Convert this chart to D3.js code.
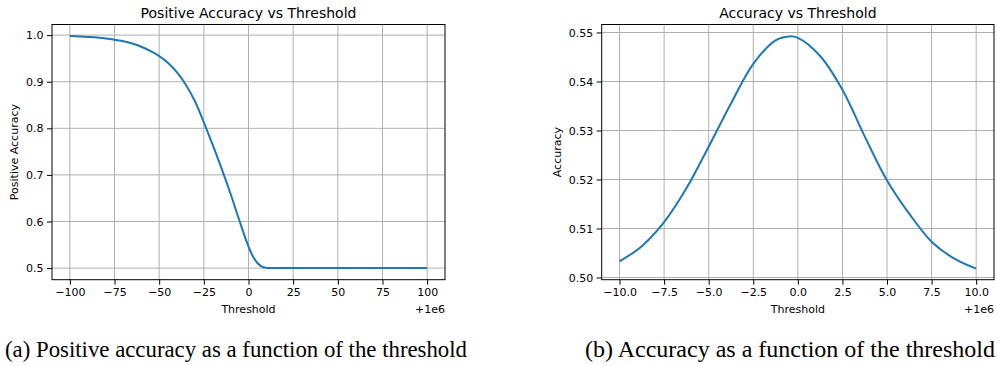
<!DOCTYPE html>
<html>
<head>
<meta charset="utf-8">
<script src="https://cdn.jsdelivr.net/npm/d3@7"></script>
<style>
  body { margin: 0; background: #fff; }
  svg { display: block; }
  .tick text { font-family: "DejaVu Sans", sans-serif; font-size: 11px; fill: #000; }
  .caption { font-family: "Liberation Serif", serif; font-size: 23px; fill: #000; }
</style>
</head>
<body>
<svg id="chart" width="997" height="366"></svg>
<script>
// panel (a): positive accuracy vs threshold (offset +1e6)
var posThreshold = [-100, -90, -80, -75, -70, -65, -60, -55, -50, -45, -40, -35, -30, -25, -20, -15, -10, -5, 0, 2.5, 5, 7.5, 10, 12.5, 15, 25, 50, 75, 100];
var posAccuracy = [0.998, 0.996, 0.993, 0.990, 0.987, 0.982, 0.975, 0.966, 0.955, 0.940, 0.920, 0.893, 0.858, 0.813, 0.764, 0.713, 0.659, 0.601, 0.546, 0.525, 0.511, 0.503, 0.5005, 0.5, 0.5, 0.5, 0.5, 0.5, 0.5];
var posXTicks = [-100, -75, -50, -25, 0, 25, 50, 75, 100];
var posYTicks = [0.5, 0.6, 0.7, 0.8, 0.9, 1.0];

// panel (b): accuracy vs threshold (offset +1e6)
var accThreshold = [-10, -8.75, -7.5, -6.25, -5, -3.75, -2.5, -1.25, -0.5, 0, 1.25, 2.5, 3.75, 5, 6.25, 7.5, 8.75, 10];
var accValues = [0.5033, 0.5064, 0.5113, 0.5182, 0.5267, 0.5355, 0.5436, 0.5484, 0.5492, 0.5489, 0.5452, 0.5383, 0.5288, 0.5198, 0.5130, 0.5073, 0.5039, 0.5018];
var accXTicks = [-10, -7.5, -5, -2.5, 0, 2.5, 5, 7.5, 10];
var accYTicks = [0.50, 0.51, 0.52, 0.53, 0.54, 0.55];

var svg = d3.select("#chart");

function drawPanel(opt) {
  var x = d3.scaleLinear().domain(opt.xDomain).range([opt.left, opt.right]);
  var y = d3.scaleLinear().domain(opt.yDomain).range([opt.bottom, opt.top]);
  var g = svg.append("g");

  // grid
  g.selectAll(".vgrid").data(opt.xTicks).enter().append("line")
    .attr("x1", function(d) { return x(d); }).attr("x2", function(d) { return x(d); })
    .attr("y1", opt.top).attr("y2", opt.bottom)
    .attr("stroke", "#b0b0b0").attr("stroke-width", 1);
  g.selectAll(".hgrid").data(opt.yTicks).enter().append("line")
    .attr("y1", function(d) { return y(d); }).attr("y2", function(d) { return y(d); })
    .attr("x1", opt.left).attr("x2", opt.right)
    .attr("stroke", "#b0b0b0").attr("stroke-width", 1);

  // the curve
  var line = d3.line()
    .x(function(d) { return x(d[0]); })
    .y(function(d) { return y(d[1]); })
    .curve(d3.curveCatmullRom.alpha(0.5));
  g.append("path")
    .datum(d3.zip(opt.xs, opt.ys))
    .attr("d", line)
    .attr("fill", "none")
    .attr("stroke", "#1f77b4")
    .attr("stroke-width", 2);

  // axes
  var xAxis = d3.axisBottom(x).tickValues(opt.xTicks).tickFormat(d3.format(opt.xFmt))
    .tickSize(5).tickPadding(4);
  var yAxis = d3.axisLeft(y).tickValues(opt.yTicks).tickFormat(d3.format(opt.yFmt))
    .tickSize(5).tickPadding(3.5);
  var gx = g.append("g").attr("transform", "translate(0," + opt.bottom + ")").call(xAxis);
  var gy = g.append("g").attr("transform", "translate(" + opt.left + ",0)").call(yAxis);
  gx.select(".domain").remove();
  gy.select(".domain").remove();
  g.selectAll(".tick line").attr("stroke", "#000").attr("stroke-width", 1);

  // frame
  g.append("rect")
    .attr("x", opt.left).attr("y", opt.top)
    .attr("width", opt.right - opt.left).attr("height", opt.bottom - opt.top)
    .attr("fill", "none").attr("stroke", "#000").attr("stroke-width", 1);

  // texts
  g.append("text")
    .attr("x", (opt.left + opt.right) / 2).attr("y", 18)
    .attr("text-anchor", "middle")
    .style("font-family", "DejaVu Sans, sans-serif").style("font-size", "14px")
    .text(opt.title);
  g.append("text")
    .attr("x", (opt.left + opt.right) / 2).attr("y", 313)
    .attr("text-anchor", "middle")
    .style("font-family", "DejaVu Sans, sans-serif").style("font-size", "11px")
    .text("Threshold");
  g.append("text")
    .attr("x", opt.right).attr("y", 313)
    .attr("text-anchor", "end")
    .style("font-family", "DejaVu Sans, sans-serif").style("font-size", "11px")
    .text("+1e6");
  g.append("text")
    .attr("transform", "translate(" + opt.ylabelX + "," + (opt.top + opt.bottom) / 2 + ") rotate(-90)")
    .attr("text-anchor", "middle")
    .style("font-family", "DejaVu Sans, sans-serif").style("font-size", "11px")
    .text(opt.ylabel);
  g.append("text")
    .attr("class", "caption")
    .attr("x", opt.captionX).attr("y", 357)
    .attr("textLength", opt.captionW)
    .attr("lengthAdjust", "spacingAndGlyphs")
    .text(opt.caption);
}

drawPanel({
  left: 52, right: 445, top: 24.5, bottom: 279.7,
  xDomain: [-110, 110], yDomain: [0.4751, 1.0228],
  xs: posThreshold, ys: posAccuracy,
  xTicks: posXTicks, yTicks: posYTicks,
  xFmt: "d", yFmt: ".1f",
  title: "Positive Accuracy vs Threshold",
  ylabel: "Positive Accuracy", ylabelX: 18,
  caption: "(a) Positive accuracy as a function of the threshold", captionX: 5, captionW: 462
});

drawPanel({
  left: 601.7, right: 994, top: 24.5, bottom: 279.7,
  xDomain: [-11, 11], yDomain: [0.49955, 0.55163],
  xs: accThreshold, ys: accValues,
  xTicks: accXTicks, yTicks: accYTicks,
  xFmt: ".1f", yFmt: ".2f",
  title: "Accuracy vs Threshold",
  ylabel: "Accuracy", ylabelX: 561,
  caption: "(b) Accuracy as a function of the threshold", captionX: 585, captionW: 410
});
</script>
</body>
</html>
